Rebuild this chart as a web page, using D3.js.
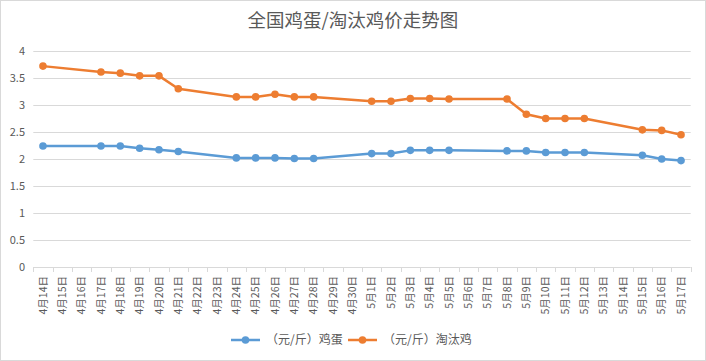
<!DOCTYPE html>
<html>
<head>
<meta charset="utf-8">
<script src="https://cdn.jsdelivr.net/npm/d3@7"></script>
<style>
  body { margin: 0; background: #fff; }
  svg { display: block; font-family: "Noto Sans CJK SC", "Microsoft YaHei", sans-serif; }
</style>
</head>
<body>
<svg id="chart" width="706" height="361"></svg>
<script>
// category labels (days)
const dates = [
    "4月14日", "4月15日", "4月16日", "4月17日", "4月18日", "4月19日", "4月20日",
    "4月21日", "4月22日", "4月23日", "4月24日", "4月25日", "4月26日", "4月27日",
    "4月28日", "4月29日", "4月30日", "5月1日", "5月2日", "5月3日", "5月4日",
    "5月5日", "5月6日", "5月7日", "5月8日", "5月9日", "5月10日", "5月11日",
    "5月12日", "5月13日", "5月14日", "5月15日", "5月16日", "5月17日"
];
// egg price (元/斤), null = no quote that day
const eggPrice = [
    2.24, null, null, 2.24, 2.24, 2.20, 2.17,
    2.14, null, null, 2.02, 2.02, 2.02, 2.01,
    2.01, null, null, 2.10, 2.10, 2.16, 2.16,
    2.16, null, null, 2.15, 2.15, 2.12, 2.12,
    2.12, null, null, 2.07, 2.00, 1.97
];
// culled hen price (元/斤)
const henPrice = [
    3.72, null, null, 3.61, 3.59, 3.54, 3.54,
    3.30, null, null, 3.15, 3.15, 3.20, 3.15,
    3.15, null, null, 3.07, 3.07, 3.12, 3.12,
    3.11, null, null, 3.11, 2.83, 2.75, 2.75,
    2.75, null, null, 2.54, 2.53, 2.45
];
const yTicks = [0, 0.5, 1, 1.5, 2, 2.5, 3, 3.5, 4];
const seriesNames = ["（元/斤）鸡蛋", "（元/斤）淘汰鸡"];
const seriesColors = ["#5B9BD5", "#ED7D31"];

const svg = d3.select("#chart");
const width = 706, height = 361;
const plotLeft = 33.3, plotRight = 690.7, plotTop = 51, plotBottom = 267;
const textColor = "#595959";

// outer border
svg.append("rect")
    .attr("x", 0.5).attr("y", 0.5)
    .attr("width", width - 1).attr("height", height - 1)
    .attr("fill", "#fff").attr("stroke", "#d9d9d9");

const x = d3.scaleBand().domain(dates).range([plotLeft, plotRight]);
const y = d3.scaleLinear().domain([0, 4]).range([plotBottom, plotTop]);

// title
svg.append("text")
    .attr("x", width / 2).attr("y", 27)
    .attr("text-anchor", "middle")
    .style("font-size", "18.5px")
    .style("fill", textColor)
    .text("全国鸡蛋/淘汰鸡价走势图");

// gridlines
svg.append("g")
    .selectAll("line")
    .data(yTicks.filter((d) => d > 0))
    .enter()
    .append("line")
    .attr("x1", plotLeft).attr("x2", plotRight)
    .attr("y1", (d) => Math.round(y(d)) + 0.5)
    .attr("y2", (d) => Math.round(y(d)) + 0.5)
    .attr("stroke", "#d9d9d9");

// y labels
svg.append("g")
    .selectAll("text")
    .data(yTicks)
    .enter()
    .append("text")
    .attr("x", 25)
    .attr("y", (d) => y(d))
    .attr("dy", "0.35em")
    .attr("text-anchor", "end")
    .style("font-size", "11px")
    .style("fill", textColor)
    .text((d) => d);

// x axis line + ticks at category boundaries
const xAxis = svg.append("g");
xAxis.append("line")
    .attr("x1", plotLeft).attr("x2", plotRight)
    .attr("y1", plotBottom + 0.5).attr("y2", plotBottom + 0.5)
    .attr("stroke", "#d9d9d9");
xAxis.selectAll("line.tick")
    .data(dates.concat([null]))
    .enter()
    .append("line")
    .attr("class", "tick")
    .attr("x1", (d, i) => Math.round(plotLeft + i * x.step()) + 0.5)
    .attr("x2", (d, i) => Math.round(plotLeft + i * x.step()) + 0.5)
    .attr("y1", plotBottom).attr("y2", plotBottom + 5)
    .attr("stroke", "#d9d9d9");
xAxis.selectAll("text")
    .data(dates)
    .enter()
    .append("text")
    .attr("transform", (d) => `translate(${x(d) + x.bandwidth() / 2},276) rotate(-90)`)
    .attr("dy", "0.35em")
    .attr("text-anchor", "end")
    .style("font-size", "10.5px")
    .style("fill", textColor)
    .text((d) => d);

// lines
const series = [eggPrice, henPrice];
const line = d3.line()
    .x((d) => x(d.date) + x.bandwidth() / 2)
    .y((d) => y(d.value));

series.forEach((values, s) => {
    const pts = dates
        .map((date, i) => ({ date: date, value: values[i] }))
        .filter((d) => d.value !== null);
    svg.append("path")
        .datum(pts)
        .attr("d", line)
        .attr("fill", "none")
        .attr("stroke", seriesColors[s])
        .attr("stroke-width", 2.5)
        .attr("stroke-linejoin", "round");
    svg.append("g")
        .selectAll("circle")
        .data(pts)
        .enter()
        .append("circle")
        .attr("cx", (d) => x(d.date) + x.bandwidth() / 2)
        .attr("cy", (d) => y(d.value))
        .attr("r", 3.8)
        .attr("fill", seriesColors[s]);
});

// legend
const legendX = [231, 348];
const legend = svg.append("g");
seriesNames.forEach((name, i) => {
    legend.append("line")
        .attr("x1", legendX[i]).attr("x2", legendX[i] + 29)
        .attr("y1", 340).attr("y2", 340)
        .attr("stroke", seriesColors[i])
        .attr("stroke-width", 2.5);
    legend.append("circle")
        .attr("cx", legendX[i] + 14.5).attr("cy", 340)
        .attr("r", 3.8)
        .attr("fill", seriesColors[i]);
    legend.append("text")
        .attr("x", legendX[i] + 35).attr("y", 340)
        .attr("dy", "0.35em")
        .style("font-size", "12px")
        .style("fill", textColor)
        .text(name);
});
</script>
</body>
</html>
